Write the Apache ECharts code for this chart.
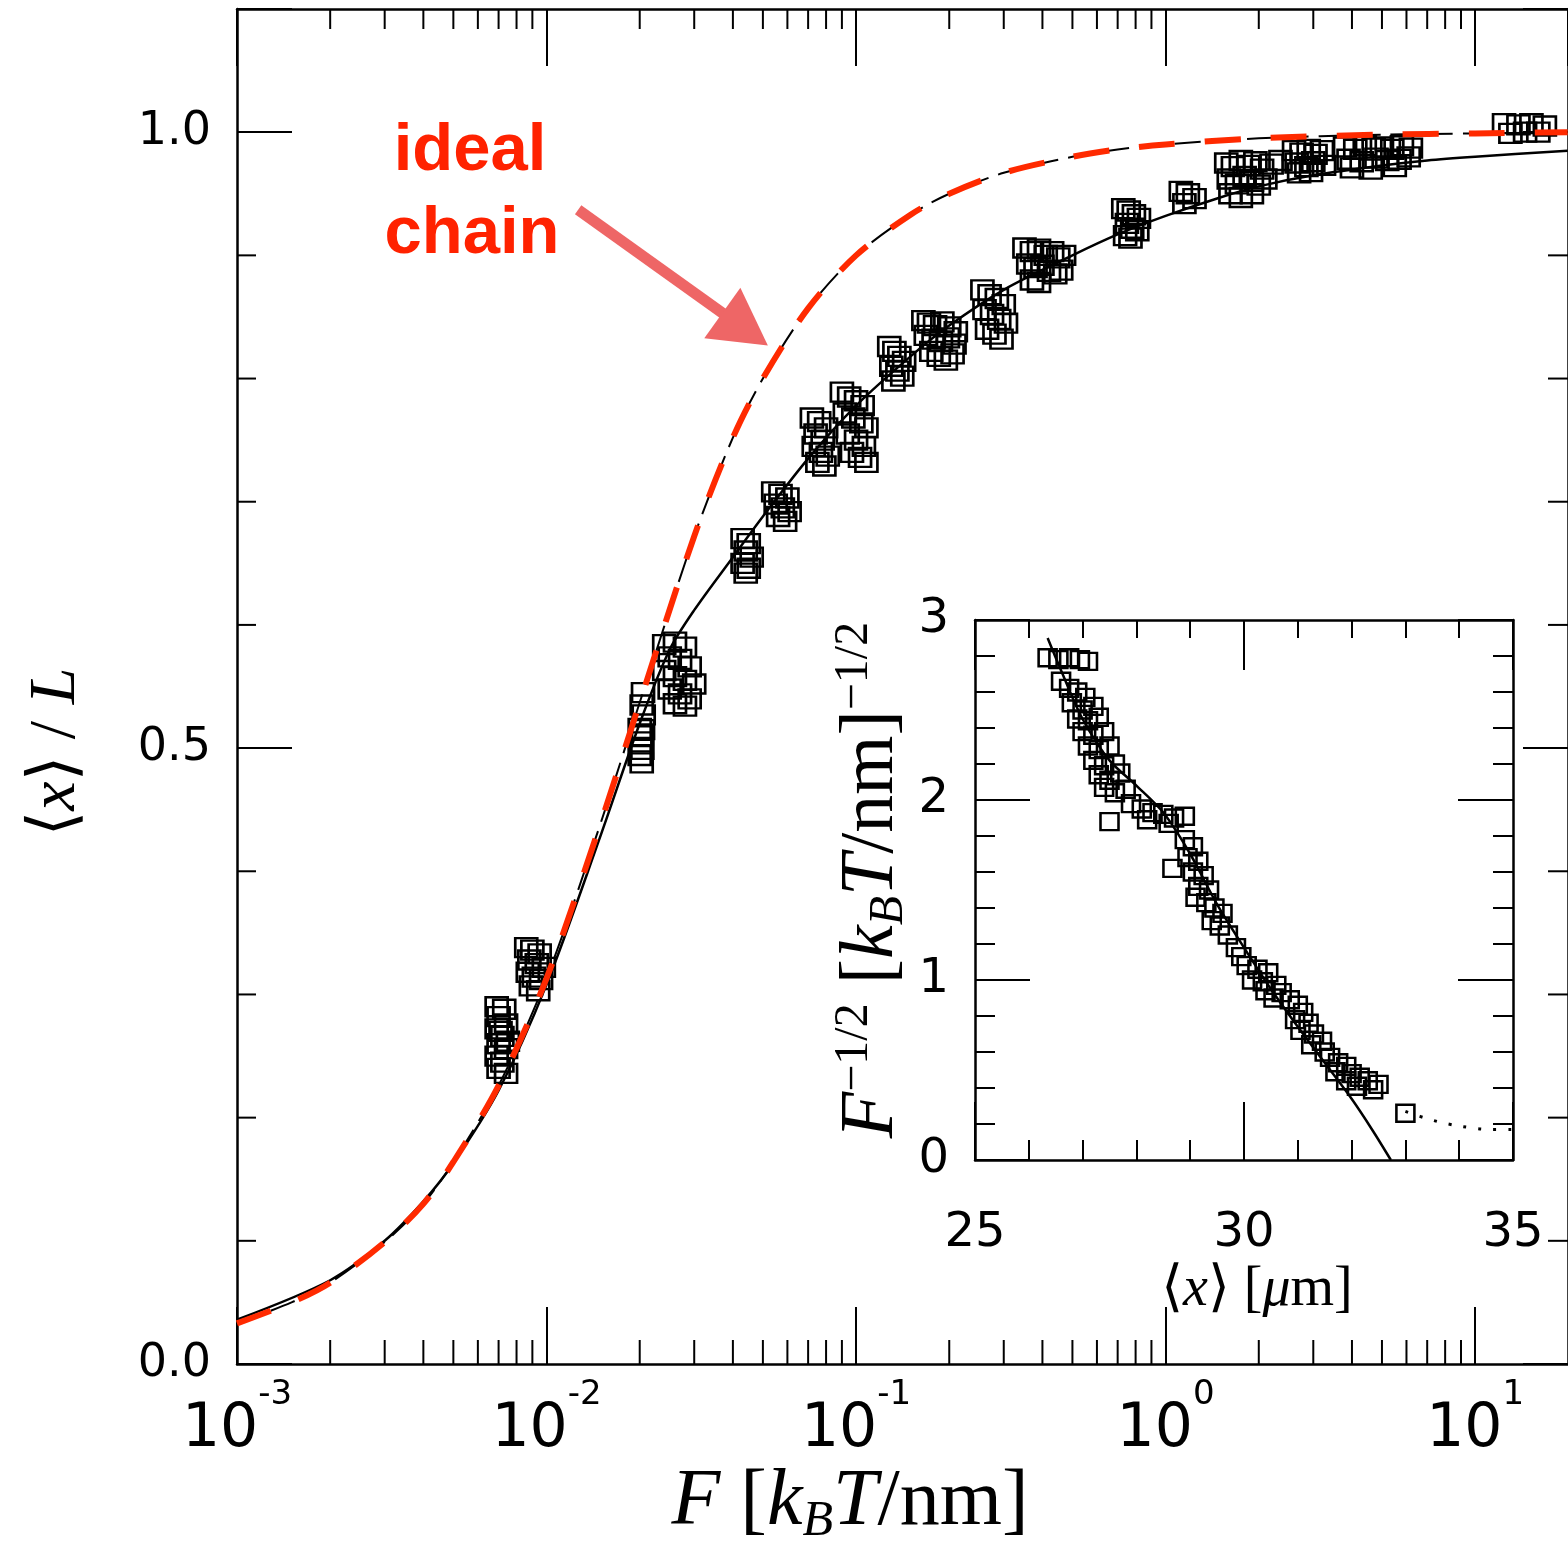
<!DOCTYPE html>
<html><head><meta charset="utf-8">
<script src="https://cdn.jsdelivr.net/npm/echarts@6/dist/echarts.min.js"></script>
<style>html,body{margin:0;padding:0;background:#fff}#c{width:1568px;height:1541px}</style>
</head><body><div id="c"></div><script>
// ---------- main panel data: <x>/L versus F [kBT/nm] ----------
const mainXMin = 0.001;
const mainXMax = Math.pow(10, 1.3);
const mainYTickLabels = ['0.0', '0.5', '1.0'];
const mainXMinorTicks = [0.002,0.003,0.004,0.005,0.006,0.007,0.008,0.009,
  0.02,0.03,0.04,0.05,0.06,0.07,0.08,0.09,
  0.2,0.3,0.4,0.5,0.6,0.7,0.8,0.9,
  2,3,4,5,6,7,8,9];
const mainYMinorTicks = [0.1,0.2,0.3,0.4,0.6,0.7,0.8,0.9];

// ideal (freely jointed) chain curve
const idealChain = [[0.001,0.033],[0.0015,0.05],[0.002,0.066],[0.003,0.099],[0.004,0.13],[0.005,0.164],
  [0.007,0.226],[0.01,0.313],[0.015,0.44],[0.02,0.537],[0.03,0.672],[0.04,0.752],[0.05,0.80],
  [0.07,0.857],[0.1,0.90],[0.15,0.933],[0.2,0.95],[0.3,0.967],[0.5,0.98],[0.7,0.986],[1,0.99],
  [2,0.995],[5,0.998],[10,0.999],[19.9,1.0]];
// fitted (solid) curve
const fitCurve = [[0.001,0.036],[0.002,0.068],[0.003,0.1],[0.004,0.132],[0.005,0.163],[0.007,0.222],
  [0.01,0.308],[0.015,0.43],[0.02,0.52],[0.025,0.58],[0.03,0.612],[0.04,0.655],[0.05,0.688],
  [0.07,0.735],[0.1,0.778],[0.15,0.818],[0.2,0.843],[0.3,0.872],[0.5,0.9],[0.7,0.917],[1,0.932],
  [1.5,0.947],[2,0.956],[3,0.965],[5,0.973],[7,0.977],[10,0.98],[19.9,0.985]];
// measured points (open squares)
const measured = [
  [0.0069,0.29],[0.0073,0.288],[0.0070,0.282],[0.0074,0.276],[0.0069,0.272],[0.0072,0.266],[0.0070,0.26],
  [0.0074,0.256],[0.0069,0.25],[0.0072,0.245],[0.0070,0.24],[0.0074,0.236],[0.0071,0.27],[0.0075,0.262],
  [0.0086,0.338],[0.0090,0.336],[0.0095,0.333],[0.0088,0.328],[0.0093,0.325],[0.0098,0.322],[0.0087,0.318],
  [0.0091,0.314],[0.0096,0.312],[0.0089,0.307],[0.0094,0.303],
  [0.0200,0.516],[0.0203,0.51],[0.0201,0.505],[0.0204,0.499],[0.0200,0.494],[0.0203,0.488],[0.0205,0.515],
  [0.0205,0.545],[0.0203,0.535],[0.0206,0.527],[0.024,0.584],[0.026,0.586],[0.028,0.582],[0.025,0.574],
  [0.027,0.572],[0.029,0.566],[0.024,0.563],[0.026,0.558],[0.028,0.555],[0.030,0.552],[0.025,0.548],
  [0.027,0.544],[0.029,0.54],[0.026,0.536],[0.028,0.534],
  [0.043,0.67],[0.045,0.666],[0.044,0.66],[0.046,0.655],[0.043,0.65],[0.045,0.646],[0.044,0.642],
  [0.054,0.708],[0.057,0.706],[0.060,0.703],[0.055,0.698],[0.058,0.695],[0.061,0.692],[0.056,0.688],[0.059,0.684],
  [0.072,0.768],[0.076,0.765],[0.080,0.76],[0.074,0.755],[0.078,0.75],[0.073,0.745],[0.077,0.74],[0.081,0.737],
  [0.075,0.732],[0.079,0.729],
  [0.09,0.789],[0.095,0.785],[0.10,0.782],[0.105,0.778],[0.092,0.772],[0.098,0.768],[0.104,0.764],[0.108,0.76],
  [0.094,0.755],[0.10,0.75],[0.106,0.745],[0.097,0.74],[0.103,0.736],[0.108,0.732],
  [0.128,0.826],[0.133,0.822],[0.138,0.818],[0.143,0.814],[0.13,0.81],[0.136,0.806],[0.141,0.802],[0.132,0.798],
  [0.165,0.847],[0.172,0.845],[0.18,0.843],[0.19,0.846],[0.2,0.842],[0.21,0.838],[0.168,0.835],[0.178,0.832],
  [0.188,0.83],[0.198,0.833],[0.208,0.828],[0.175,0.822],[0.185,0.818],[0.195,0.815],[0.205,0.82],
  [0.256,0.872],[0.27,0.868],[0.285,0.865],[0.3,0.86],[0.26,0.856],[0.275,0.852],[0.29,0.848],[0.305,0.845],
  [0.265,0.84],[0.28,0.836],[0.295,0.832],
  [0.35,0.906],[0.37,0.903],[0.39,0.905],[0.41,0.9],[0.43,0.903],[0.45,0.898],[0.47,0.9],[0.36,0.893],
  [0.38,0.89],[0.40,0.892],[0.42,0.887],[0.44,0.885],[0.46,0.888],[0.37,0.88],[0.39,0.878],
  [0.73,0.938],[0.76,0.936],[0.79,0.933],[0.82,0.93],[0.75,0.926],[0.78,0.922],[0.81,0.92],[0.74,0.916],[0.77,0.914],
  [1.12,0.952],[1.18,0.95],[1.24,0.946],[1.15,0.942],
  [1.57,0.975],[1.65,0.972],[1.75,0.977],[1.85,0.973],[1.95,0.976],[2.05,0.97],[2.2,0.974],[2.35,0.977],
  [1.6,0.962],[1.7,0.958],[1.8,0.964],[1.9,0.96],[2.0,0.957],[2.1,0.962],[1.62,0.95],[1.75,0.947],[1.9,0.95],
  [2.6,0.985],[2.75,0.983],[2.9,0.986],[3.05,0.982],[3.2,0.985],[2.65,0.975],[2.85,0.972],[3.0,0.976],
  [3.25,0.973],[2.7,0.967],[2.95,0.968],
  [3.8,0.988],[4.1,0.986],[4.4,0.989],[4.7,0.987],[5.0,0.988],[5.4,0.986],[5.8,0.989],[6.2,0.987],
  [3.9,0.978],[4.3,0.976],[4.8,0.979],[5.2,0.977],[5.7,0.978],[6.1,0.98],[4.0,0.971],[4.6,0.97],[5.5,0.972],
  [12.4,1.007],[13.8,1.006],[15.2,1.007],[16.8,1.005],[13,0.999],[14.5,1.0],[16,1.0]];
// annotation arrow (tail, head) in data coordinates
const arrowTail = [0.01265, 0.937];
const arrowHead = [0.0438, 0.840];

// ---------- inset data: F^-1/2 versus <x> [um] ----------
const insetSquares = [
  [26.35,2.79],[26.55,2.78],[26.75,2.79],[26.95,2.78],[27.1,2.77],
  [26.6,2.66],[26.75,2.62],[26.9,2.6],[27.05,2.57],[26.8,2.54],[27.0,2.5],[27.2,2.52],[26.9,2.45],[27.1,2.44],[27.3,2.46],
  [27.0,2.38],[27.2,2.36],[27.4,2.38],[27.1,2.3],[27.3,2.28],[27.5,2.3],
  [27.2,2.22],[27.4,2.19],[27.6,2.2],[27.3,2.14],[27.5,2.11],[27.7,2.15],[27.4,2.07],[27.6,2.04],[27.8,2.06],
  [27.5,1.88],
  [27.9,1.98],[28.1,1.95],[28.3,1.93],[28.5,1.92],[28.7,1.9],[28.9,1.91],[28.2,1.89],[28.6,1.87],
  [28.67,1.62],
  [28.9,1.78],[29.05,1.74],[28.95,1.68],[29.15,1.66],[29.05,1.6],[29.25,1.58],[29.15,1.52],[29.35,1.5],[29.1,1.46],
  [29.3,1.43],[29.45,1.4],[29.6,1.37],[29.4,1.33],[29.55,1.3],[29.7,1.25],[29.85,1.18],[29.95,1.13],
  [30.05,1.08],[30.25,1.06],[30.45,1.04],[30.15,1.0],[30.35,0.99],[30.6,0.97],[30.4,0.94],[30.7,0.93],[30.55,0.9],[30.85,0.89],
  [31.0,0.86],[31.1,0.82],[30.95,0.78],[31.2,0.76],[31.05,0.72],[31.3,0.7],[31.45,0.66],[31.25,0.64],[31.5,0.6],
  [31.6,0.57],[31.75,0.54],[31.9,0.52],[31.7,0.49],[32.0,0.48],[32.15,0.46],[31.9,0.44],[32.3,0.44],[32.5,0.42],[32.1,0.41],[32.4,0.39],
  [33.0,0.26]];
const insetFit = [[26.35,2.9],[26.6,2.72],[27.0,2.45],[27.5,2.22],[28.0,2.08],[28.5,1.93],[29.0,1.7],
  [29.5,1.42],[30.0,1.18],[30.5,0.95],[31.0,0.74],[31.5,0.54],[32.0,0.34],[32.4,0.16],[32.73,0]];
const insetDotted = [[33.0,0.27],[33.4,0.23],[33.8,0.2],[34.2,0.18],[34.6,0.17],[35,0.17]];

// ---------- chart ----------
const black = '#000';
const serif = "'Liberation Serif','DejaVu Serif',serif";
const tickFont = "'DejaVu Sans',sans-serif";

function logLabel(v) {
  const e = Math.log10(v);
  if (Math.abs(e - Math.round(e)) > 0.01) return '';
  return '{b|10}{s|' + Math.round(e) + '}';
}
function mathRich(size, supSize) {
  return {
    i: {fontFamily: serif, fontStyle: 'italic', fontSize: size, fill: black, color: black, lineHeight: size * 1.1, verticalAlign: 'middle'},
    n: {fontFamily: serif, fontSize: size, fill: black, color: black, lineHeight: size * 1.1, verticalAlign: 'middle'},
    sup: {fontFamily: serif, fontSize: supSize, fill: black, color: black, lineHeight: supSize, verticalAlign: 'top'},
    sub: {fontFamily: serif, fontSize: supSize, fontStyle: 'italic', fill: black, color: black, lineHeight: supSize, verticalAlign: 'bottom'}
  };
}

const chart = echarts.init(document.getElementById('c'), null, {renderer: 'canvas'});
const axisLine = {show: true, onZero: false, lineStyle: {color: black, width: 2.5}};
const openSquare = {color: 'rgba(255,255,255,0)', borderColor: black, borderWidth: 2.5, opacity: 1};

chart.setOption({
  animation: false,
  backgroundColor: '#fff',
  grid: [
    {left: 237, right: -7, top: 9, bottom: 177},
    {left: 975, top: 620, width: 538, height: 540}
  ],
  xAxis: [
    {gridIndex: 0, type: 'log', min: mainXMin, max: mainXMax, position: 'bottom',
      axisLine: axisLine, splitLine: {show: false},
      axisTick: {inside: true, length: 57, lineStyle: {color: black, width: 2}},
      axisLabel: {showMaxLabel: false, margin: 14, formatter: logLabel,
        rich: {b: {fontFamily: tickFont, fontSize: 60, color: black, padding: [22, 0, 0, 0], verticalAlign: 'bottom'},
               s: {fontFamily: tickFont, fontSize: 34, color: black, verticalAlign: 'top'}}}},
    {gridIndex: 0, type: 'log', min: mainXMin, max: mainXMax, position: 'top',
      axisLine: axisLine, splitLine: {show: false}, axisLabel: {show: false},
      axisTick: {inside: true, length: 57, lineStyle: {color: black, width: 2}}},
    {gridIndex: 1, type: 'value', min: 25, max: 35, interval: 5, position: 'bottom',
      axisLine: axisLine, splitLine: {show: false},
      axisTick: {inside: true, length: 58, lineStyle: {color: black, width: 2}},
      minorTick: {show: true, splitNumber: 5, length: 20, lineStyle: {color: black, width: 2}},
      axisLabel: {margin: 50, fontFamily: tickFont, fontSize: 48, color: black}},
    {gridIndex: 1, type: 'value', min: 25, max: 35, interval: 5, position: 'top',
      axisLine: axisLine, splitLine: {show: false}, axisLabel: {show: false},
      axisTick: {inside: true, length: 50, lineStyle: {color: black, width: 2}},
      minorTick: {show: true, splitNumber: 5, length: 18, lineStyle: {color: black, width: 2}}}
  ],
  yAxis: [
    {gridIndex: 0, type: 'value', min: 0, max: 1.1, interval: 0.5, position: 'left',
      axisLine: axisLine, splitLine: {show: false},
      axisTick: {inside: true, length: 55, lineStyle: {color: black, width: 2}},
      axisLabel: {margin: 26, fontFamily: tickFont, fontSize: 46, color: black,
        formatter: v => { const i = [0, 0.5, 1].findIndex(t => Math.abs(t - v) < 1e-6); return i < 0 ? '' : mainYTickLabels[i]; }}},
    {gridIndex: 0, type: 'value', min: 0, max: 1.1, interval: 0.5, position: 'right',
      axisLine: axisLine, splitLine: {show: false}, axisLabel: {show: false},
      axisTick: {inside: true, length: 45, lineStyle: {color: black, width: 2}}},
    {gridIndex: 1, type: 'value', min: 0, max: 3, interval: 1, position: 'left',
      axisLine: axisLine, splitLine: {show: false},
      axisTick: {inside: true, length: 55, lineStyle: {color: black, width: 2}},
      minorTick: {show: true, splitNumber: 5, length: 20, lineStyle: {color: black, width: 2}},
      axisLabel: {margin: 26, fontFamily: tickFont, fontSize: 48, color: black}},
    {gridIndex: 1, type: 'value', min: 0, max: 3, interval: 1, position: 'right',
      axisLine: axisLine, splitLine: {show: false}, axisLabel: {show: false},
      axisTick: {inside: true, length: 55, lineStyle: {color: black, width: 2}},
      minorTick: {show: true, splitNumber: 5, length: 20, lineStyle: {color: black, width: 2}}}
  ],
  series: [
    {type: 'custom', xAxisIndex: 0, yAxisIndex: 0, silent: true, z: 3,
      data: mainXMinorTicks.map(v => [v, 0]),
      renderItem: (params, api) => {
        const v = api.value(0);
        const b = api.coord([v, 0]);
        const t = api.coord([v, 1.1]);
        return {type: 'group', children: [
          {type: 'line', shape: {x1: b[0], y1: b[1], x2: b[0], y2: b[1] - 24}, style: {stroke: black, lineWidth: 2}},
          {type: 'line', shape: {x1: t[0], y1: t[1], x2: t[0], y2: t[1] + 20}, style: {stroke: black, lineWidth: 2}}
        ]};
      }},
    {type: 'custom', xAxisIndex: 0, yAxisIndex: 0, silent: true, z: 3,
      data: mainYMinorTicks.map(v => [mainXMin, v]),
      renderItem: (params, api) => {
        const v = api.value(1);
        const l = api.coord([mainXMin, v]);
        const r = api.coord([mainXMax, v]);
        return {type: 'group', children: [
          {type: 'line', shape: {x1: l[0], y1: l[1], x2: l[0] + 19, y2: l[1]}, style: {stroke: black, lineWidth: 2}},
          {type: 'line', shape: {x1: r[0], y1: r[1], x2: r[0] - 20, y2: r[1]}, style: {stroke: black, lineWidth: 2}}
        ]};
      }},
    {type: 'line', xAxisIndex: 0, yAxisIndex: 0, data: fitCurve, smooth: 0.3, symbol: 'none', z: 4,
      lineStyle: {color: black, width: 2.5}},
    {type: 'line', xAxisIndex: 0, yAxisIndex: 0, data: idealChain, smooth: 0.3, symbol: 'none', z: 4,
      lineStyle: {color: black, width: 2, type: [26, 10]}},
    {type: 'scatter', xAxisIndex: 0, yAxisIndex: 0, data: measured, symbol: 'rect', symbolSize: [22, 19], z: 5,
      itemStyle: openSquare},
    {type: 'line', xAxisIndex: 0, yAxisIndex: 0, data: idealChain, smooth: 0.3, symbol: 'none', z: 6,
      lineStyle: {color: '#ff2a00', width: 6, type: [36, 30]},
      markLine: {silent: true, symbol: ['none', 'triangle'], symbolSize: [62, 56],
        lineStyle: {color: '#ee6666', width: 11, type: 'solid', opacity: 1}, label: {show: false},
        data: [[{coord: arrowTail}, {coord: arrowHead}]]}},
    {type: 'line', xAxisIndex: 2, yAxisIndex: 2, data: insetFit, smooth: 0.3, symbol: 'none', z: 4,
      lineStyle: {color: black, width: 2.5}},
    {type: 'line', xAxisIndex: 2, yAxisIndex: 2, data: insetDotted, smooth: 0.4, symbol: 'none', z: 4,
      lineStyle: {color: black, width: 3, type: [3, 12]}},
    {type: 'scatter', xAxisIndex: 2, yAxisIndex: 2, data: insetSquares, symbol: 'rect', symbolSize: [18, 17], z: 5,
      itemStyle: openSquare}
  ],
  graphic: [
    {type: 'text', x: 470, y: 152, z: 100, style: {text: 'ideal', fontFamily: "'Liberation Sans',Arial,sans-serif",
      fontWeight: 'bold', fontSize: 67, fill: '#ff2200', align: 'center', verticalAlign: 'middle'}},
    {type: 'text', x: 472, y: 235, z: 100, style: {text: 'chain', fontFamily: "'Liberation Sans',Arial,sans-serif",
      fontWeight: 'bold', fontSize: 67, fill: '#ff2200', align: 'center', verticalAlign: 'middle'}},
    {type: 'text', x: 850, y: 1503, z: 100, style: {
      text: '{i|F}{n| [}{i|k}{sub|B}{i|T}{n|/nm]}', rich: mathRich(80, 50), align: 'center', verticalAlign: 'middle'}},
    {type: 'text', x: 57, y: 752, rotation: Math.PI / 2, z: 100, style: {
      text: '{n|⟨}{i|x}{n|⟩ / }{i|L}', rich: mathRich(66, 44), align: 'center', verticalAlign: 'middle'}},
    {type: 'text', x: 1257, y: 1290, z: 100, style: {
      text: '{n|⟨}{i|x}{n|⟩ [}{i|μ}{n|m]}', rich: mathRich(56, 38), align: 'center', verticalAlign: 'middle'}},
    {type: 'text', x: 872, y: 880, rotation: Math.PI / 2, z: 100, style: {
      text: '{i|F}{sup|−1/2}{n| [}{i|k}{sub|B}{i|T}{n|/nm]}{sup|−1/2}', rich: mathRich(76, 48), align: 'center', verticalAlign: 'middle'}}
  ]
});
</script></body></html>
